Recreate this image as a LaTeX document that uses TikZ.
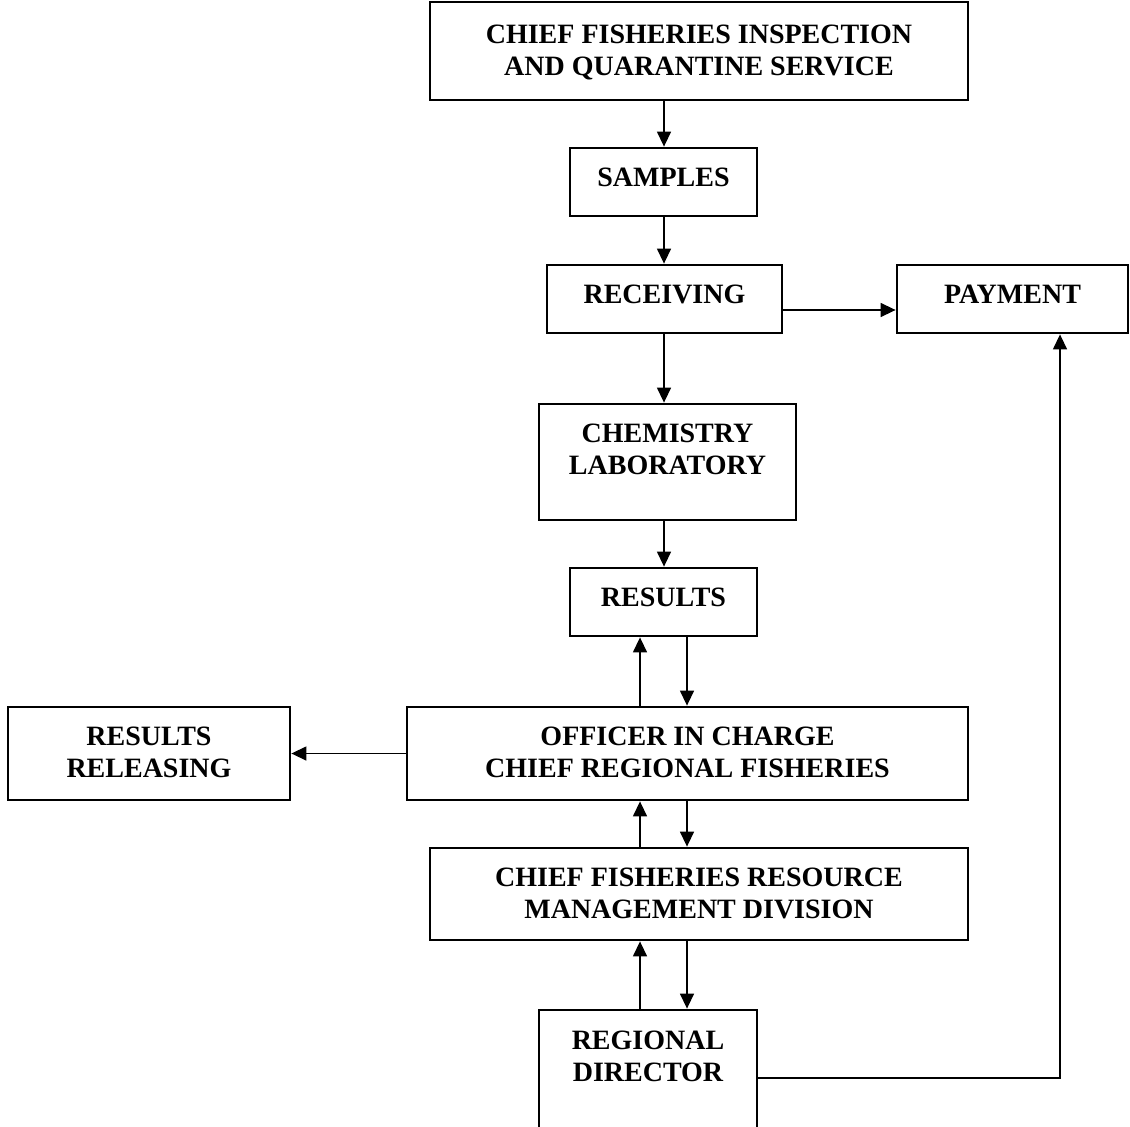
\documentclass[tikz,border=0pt]{standalone}
\usepackage{fontspec}
\setmainfont{Liberation Serif}
\usetikzlibrary{arrows.meta}

\begin{document}
\begin{tikzpicture}[x=1pt, y=-1pt, font=\fontsize{28}{32}\selectfont\bfseries,
  box/.style={draw, line width=1.6pt, inner sep=0pt},
  txt/.style={anchor=north, inner sep=0pt, align=center, yshift=-20.5pt},
  arr/.style={line width=1.4pt, shorten >=0.6pt, -{Triangle[length=15pt,width=14pt]}}]

\useasboundingbox (0,0) rectangle (1130,1127);
\clip (0,0) rectangle (1130,1127);

\node[box, minimum width=538pt, minimum height=98pt,
  label={[txt, yshift=-3.5pt]north:CHIEF FISHERIES INSPECTION\\AND QUARANTINE SERVICE}] (cfiqs) at (699,51) {};
\node[box, minimum width=187pt, minimum height=68pt, label={[txt]north:SAMPLES}] (samples) at (663.5,182) {};
\node[box, minimum width=235pt, minimum height=68pt, label={[txt]north:RECEIVING}] (receiving) at (664.5,299) {};
\node[box, minimum width=231pt, minimum height=68pt, label={[txt]north:PAYMENT}] (payment) at (1012.5,299) {};
\node[box, minimum width=257pt, minimum height=116pt, label={[txt]north:CHEMISTRY\\LABORATORY}] (chem) at (667.5,462) {};
\node[box, minimum width=187pt, minimum height=68pt, label={[txt]north:RESULTS}] (results) at (663.5,602) {};
\node[box, minimum width=561pt, minimum height=93pt,
  label={[txt]north:OFFICER IN CHARGE\\CHIEF REGIONAL FISHERIES}] (officer) at (687.5,753.5) {};
\node[box, minimum width=282pt, minimum height=93pt, label={[txt]north:RESULTS\\RELEASING}] (releasing) at (149,753.5) {};
\node[box, minimum width=538pt, minimum height=92pt,
  label={[txt]north:CHIEF FISHERIES RESOURCE\\MANAGEMENT DIVISION}] (cfrmd) at (699,894) {};
\node[box, minimum width=218pt, minimum height=136pt, label={[txt, yshift=-1.5pt]north:REGIONAL\\DIRECTOR}] (director) at (648,1078) {};

\coordinate (mid) at (664,0);
\coordinate (up) at (640,0);
\coordinate (dn) at (687,0);

\foreach \a/\b in {cfiqs/samples, samples/receiving, receiving/chem, chem/results}{
\draw[arr] (\a.south -| mid) -- (\b.north -| mid);
}

\foreach \a/\b in {results/officer, officer/cfrmd, cfrmd/director}{
\draw[arr] (\b.north -| up) -- (\a.south -| up);
\draw[arr] (\a.south -| dn) -- (\b.north -| dn);
}

\draw[arr] ([yshift=-11pt]receiving.east) -- ([yshift=-11pt]receiving.east -| payment.west);
\draw[arr] (officer.west) -- (releasing.east);
\draw[arr] (director.east) -| ([xshift=47.5pt]payment.south);
\end{tikzpicture}
\end{document}
